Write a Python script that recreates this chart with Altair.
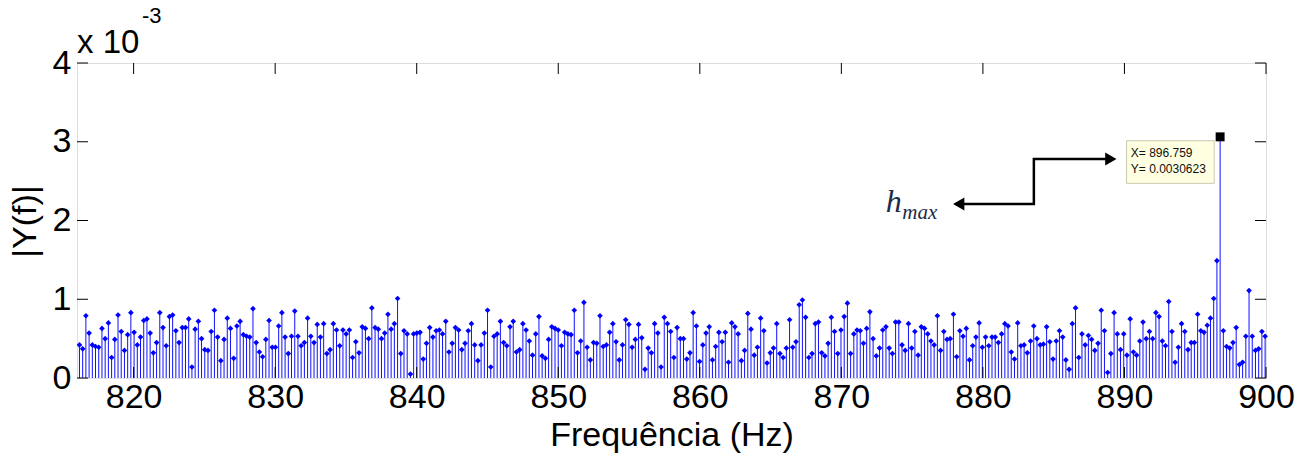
import altair as alt
import pandas as pd

# |Y(f)| values in units of 1e-3, in frequency order
mag_a = [0.42, 0.37, 0.79, 0.57, 0.42, 0.40, 0.39, 0.63, 0.50, 0.70,
         0.26, 0.49, 0.80, 0.59, 0.35, 0.55, 0.83, 0.58, 0.42, 0.52,
         0.73, 0.75, 0.57, 0.32, 0.45, 0.83, 0.64, 0.41, 0.78, 0.80,
         0.60, 0.45, 0.64, 0.64, 0.75, 0.14, 0.62, 0.72, 0.50, 0.36,
         0.35, 0.59, 0.86, 0.52, 0.22, 0.49, 0.76, 0.63, 0.25, 0.66,
         0.72, 0.55, 0.53, 0.52, 0.88, 0.45, 0.33, 0.27, 0.49, 0.73,
         0.39, 0.39, 0.66, 0.83]
mag_b = [0.52, 0.31, 0.53, 0.85, 0.53, 0.41, 0.45, 0.76, 0.53, 0.45,
         0.68, 0.52, 0.69, 0.31, 0.36, 0.69, 0.61, 0.41, 0.61, 0.56,
         0.61, 0.26, 0.46, 0.32, 0.65, 0.63, 0.50, 0.89, 0.64, 0.62,
         0.50, 0.57, 0.81, 0.62, 0.69, 1.01, 0.31, 0.60, 0.56, 0.05,
         0.56, 0.57, 0.58, 0.24, 0.44, 0.64, 0.52, 0.60, 0.61, 0.56,
         0.72, 0.33, 0.44, 0.64, 0.61, 0.36, 0.44, 0.60, 0.69, 0.42,
         0.22, 0.42, 0.57, 0.86, 0.14, 0.53, 0.56, 0.72]
mag_c = [0.45, 0.41, 0.65, 0.72, 0.33, 0.36, 0.69, 0.61, 0.47, 0.29,
         0.56, 0.78, 0.28, 0.25, 0.49, 0.65, 0.63, 0.61, 0.41, 0.58,
         0.56, 0.55, 0.86, 0.32, 0.47, 0.96, 0.39, 0.23, 0.45, 0.44,
         0.79, 0.40, 0.42, 0.58, 0.69, 0.46, 0.23, 0.42, 0.74, 0.68,
         0.39, 0.49, 0.68, 0.51, 0.11, 0.38, 0.32, 0.69, 0.57, 0.14,
         0.77, 0.69, 0.59, 0.26, 0.64, 0.50, 0.50, 0.24, 0.32, 0.83,
         0.66, 0.21, 0.42, 0.57, 0.65, 0.23, 0.40]
mag_d = [0.58, 0.46, 0.58, 0.20, 0.70, 0.65, 0.56, 0.22, 0.35, 0.82,
         0.62, 0.29, 0.39, 0.76, 0.60, 0.19, 0.32, 0.38, 0.69, 0.31,
         0.26, 0.38, 0.74, 0.39, 0.46, 0.93, 0.99, 0.77, 0.26, 0.31,
         0.69, 0.71, 0.32, 0.28, 0.44, 0.77, 0.59, 0.31, 0.61, 0.78,
         0.95, 0.31, 0.56, 0.61, 0.60, 0.44, 0.63, 0.84, 0.50, 0.28,
         0.38, 0.61, 0.65, 0.38, 0.31, 0.71, 0.71, 0.42, 0.35, 0.69,
         0.38, 0.59, 0.29, 0.65]
mag_e = [0.63, 0.56, 0.47, 0.42, 0.79, 0.35, 0.59, 0.49, 0.50, 0.81,
         0.27, 0.60, 0.53, 0.63, 0.23, 0.41, 0.52, 0.70, 0.39, 0.52,
         0.41, 0.52, 0.52, 0.45, 0.56, 0.69, 0.66, 0.33, 0.24, 0.70,
         0.41, 0.42, 0.32, 0.47, 0.66, 0.50, 0.42, 0.43, 0.65, 0.46,
         0.24, 0.47, 0.60, 0.52, 0.23, 0.11, 0.69, 0.89, 0.26, 0.56,
         0.42, 0.54, 0.49, 0.35, 0.44, 0.86, 0.60, 0.07, 0.31, 0.83,
         0.56, 0.36, 0.56, 0.29, 0.75]
mag_f = [0.33, 0.29, 0.47, 0.71, 0.50, 0.59, 0.50, 0.83, 0.78, 0.47,
         0.41, 0.97, 0.59, 0.20, 0.39, 0.69, 0.59, 0.36, 0.45, 0.45,
         0.81, 0.60, 0.58, 0.67, 0.76, 1.01, 1.49]
mag_peak = [3.0623]
mag_g = [0.60, 0.40, 0.38, 0.45, 0.64, 0.17, 0.20, 0.53, 1.11, 0.53,
         0.35, 0.37, 0.59, 0.53]

peak_freq = 896.759   # Hz (data tip)
bin_step = 0.227      # Hz between FFT bins

x_ticks = [820, 830, 840, 850, 860, 870, 880, 890, 900]
y_ticks = [0, 1, 2, 3, 4]
x_domain = [816, 900]
y_domain = [0, 4]

mags = mag_a + mag_b + mag_c + mag_d + mag_e + mag_f + mag_peak + mag_g
n_before = len(mag_a + mag_b + mag_c + mag_d + mag_e + mag_f)
f_start = peak_freq - n_before * bin_step
freqs = [f_start + i * bin_step for i in range(len(mags))]
df = pd.DataFrame({"x": freqs, "y": mags})

W, H = 1189, 315
FONT = "Liberation Sans"

xscale = alt.Scale(domain=x_domain, nice=False, zero=False)
yscale = alt.Scale(domain=y_domain, nice=False, zero=False)
xaxis = alt.Axis(values=x_ticks, format="d", labelFontSize=34, labelFont=FONT,
                 labelColor="black", ticks=False, domain=False, grid=False,
                 labelFlush=False, labelOverlap=False,
                 labelPadding=2, titleFontSize=34, titleFont=FONT,
                 titleFontWeight="normal", titleColor="black",
                 titleY=67, titleBaseline="alphabetic")
yaxis = alt.Axis(values=y_ticks, format="d", labelFontSize=34, labelFont=FONT,
                 labelColor="black", ticks=False, domain=False, grid=False,
                 labelFlush=False, labelOverlap=False,
                 labelPadding=6, titleFontSize=34, titleFont=FONT,
                 titleFontWeight="normal", titleColor="black",
                 titleX=-52, titleY=158, titleBaseline="middle", titleAngle=-90)
XT = "Frequência (Hz)"
YT = "|Y(f)|"


def X(f):
    return alt.X(f, type="quantitative", scale=xscale, axis=xaxis, title=XT)


def Y(f):
    return alt.Y(f, type="quantitative", scale=yscale, axis=yaxis, title=YT)


base = alt.Chart(df)
stems = base.mark_rule(color="#1010FF", strokeWidth=1).encode(
    x=X("x"), y=Y("y"), y2=alt.datum(0))
heads = base.mark_point(shape="diamond", filled=True, size=32, color="#0000FF",
                        opacity=1).encode(x=X("x"), y=Y("y"))

xt = pd.DataFrame({"x": x_ticks})
yt = pd.DataFrame({"y": y_ticks})
tick_b = alt.Chart(xt).mark_rule(color="black", strokeWidth=1).encode(
    x=X("x"), y=alt.value(H), y2=alt.value(H - 11))
tick_t = alt.Chart(xt).mark_rule(color="black", strokeWidth=1).encode(
    x=X("x"), y=alt.value(0), y2=alt.value(11))
tick_l = alt.Chart(yt).mark_rule(color="black", strokeWidth=1).encode(
    y=Y("y"), x=alt.value(0), x2=alt.value(11))
tick_r = alt.Chart(yt).mark_rule(color="black", strokeWidth=1).encode(
    y=Y("y"), x=alt.value(W), x2=alt.value(W - 11))

one = pd.DataFrame({"k": [0]})
exp_main = alt.Chart(one).mark_text(text="x 10", fontSize=33, font=FONT,
                                    align="left", baseline="alphabetic",
                                    color="black").encode(
    x=alt.value(0), y=alt.value(-10))
exp_sup = alt.Chart(one).mark_text(text="-3", fontSize=22, font=FONT,
                                   align="left", baseline="alphabetic",
                                   color="black").encode(
    x=alt.value(65), y=alt.value(-40))

# data tip
peak_df = pd.DataFrame({"x": [peak_freq], "y": mag_peak})
peak_sq = alt.Chart(peak_df).mark_square(size=80, color="black", filled=True,
                                         opacity=1).encode(x=X("x"), y=Y("y"))
tip_box_df = pd.DataFrame({"x": [890.15], "x2": [896.34], "y": [3.013], "y2": [2.472]})
tip_box = alt.Chart(tip_box_df).mark_rect(fill="#FFFFE1", stroke="#C8C8B0",
                                          strokeWidth=1).encode(
    x=X("x"), x2="x2", y=Y("y"), y2="y2")
tip_lines = ["X= 896.759", "Y= 0.0030623"]
tip_txt_df = pd.DataFrame({"x": [890.45, 890.45], "y": [2.857, 2.654], "t": tip_lines})
tip_txt = alt.Chart(tip_txt_df).mark_text(fontSize=12, font=FONT, align="left",
                                          baseline="middle", color="#111111").encode(
    x=X("x"), y=Y("y"), text="t:N")

# arrow
arrow_df = pd.DataFrame({"x": [878.29, 883.6, 883.6, 889.04],
                         "y": [2.21, 2.21, 2.78, 2.78], "o": [0, 1, 2, 3]})
arrow = alt.Chart(arrow_df).mark_line(color="black", strokeWidth=2.5,
                                      strokeJoin="miter").encode(
    x=X("x"), y=Y("y"), order="o:Q")
head_l = alt.Chart(pd.DataFrame({"x": [878.29], "y": [2.21]})).mark_point(
    shape="triangle-left", filled=True, size=170, color="black", opacity=1).encode(
    x=X("x"), y=Y("y"))
head_r = alt.Chart(pd.DataFrame({"x": [889.04], "y": [2.78]})).mark_point(
    shape="triangle-right", filled=True, size=170, color="black", opacity=1).encode(
    x=X("x"), y=Y("y"))

h_df = pd.DataFrame({"x": [873.13], "y": [2.108]})
h_txt = alt.Chart(h_df).mark_text(text="h", fontSize=32, font="Liberation Serif",
                                  fontStyle="italic", align="left",
                                  baseline="alphabetic", color="#1E2B4A").encode(
    x=X("x"), y=Y("y"))
m_df = pd.DataFrame({"x": [874.3], "y": [2.02]})
m_txt = alt.Chart(m_df).mark_text(text="max", fontSize=21, font="Liberation Serif",
                                  fontStyle="italic", align="left",
                                  baseline="alphabetic", color="#1E2B4A").encode(
    x=X("x"), y=Y("y"))

chart = alt.layer(
    stems, heads, tick_b, tick_t, tick_l, tick_r, exp_main, exp_sup,
    tip_box, tip_txt, arrow, head_l, head_r, h_txt, m_txt, peak_sq
).properties(
    width=W, height=H,
    autosize=alt.AutoSizeParams(type="none"),
    padding={"left": 77, "top": 63, "right": 46, "bottom": 77},
    background="white",
).configure_view(stroke="black", strokeWidth=1).configure(font=FONT)

chart.save("out.html", embed_options={"renderer": "svg", "actions": False})
